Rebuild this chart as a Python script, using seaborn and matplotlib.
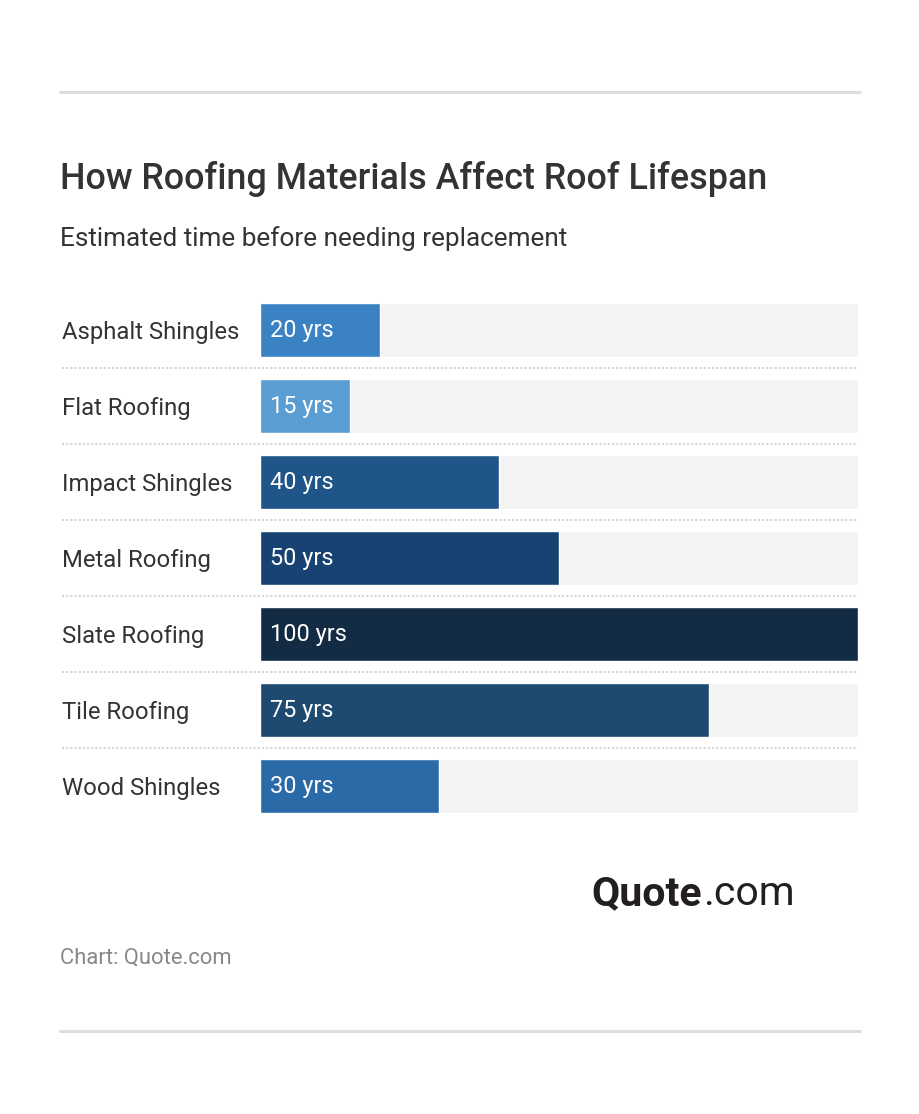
import matplotlib
matplotlib.use('Agg')
import matplotlib.pyplot as plt
from matplotlib.lines import Line2D
import seaborn as sns
import pandas as pd

materials = ['Asphalt Shingles', 'Flat Roofing', 'Impact Shingles', 'Metal Roofing',
             'Slate Roofing', 'Tile Roofing', 'Wood Shingles']
years = [20, 15, 40, 50, 100, 75, 30]
bar_colors = ['#3b82c4', '#5a9dd2', '#1f5588', '#174271', '#132c44', '#1e4a6f', '#2a6aa6']
scale_max = 100

sns.set_theme(style='white')
plt.rcParams['font.family'] = ['Roboto', 'DejaVu Sans']

df = pd.DataFrame({'material': materials, 'years': years})
df['track'] = scale_max

W, H = 920, 1114
fig = plt.figure(figsize=(W / 100, H / 100), dpi=100)
ax = fig.add_axes([260 / W, 1 - 824 / H, 598 / W, 532 / H])

# light background track, then the value bars
sns.barplot(data=df, x='track', y='material', color='#f3f3f3', width=0.71,
            saturation=1, ax=ax)
sns.barplot(data=df, x='years', y='material', hue='material', palette=bar_colors,
            width=0.71, saturation=1, legend=False, ax=ax)

ax.set_xlim(0, scale_max)
ax.set_ylim(len(materials) - 0.5, -0.5)
ax.set_xlabel('')
ax.set_ylabel('')
ax.set_xticks([])
sns.despine(ax=ax, left=True, bottom=True)

for lab in ax.get_yticklabels():
    lab.set_ha('left')
ax.tick_params(axis='y', length=0, pad=198 * 0.72, labelsize=17.2, labelcolor='#333333')

for i, v in enumerate(years):
    ax.text(1.6, i, f'{v} yrs', color='white', fontsize=16.9, va='center', ha='left')

# dotted separators between rows
for i in range(len(materials) - 1):
    ax.axhline(i + 0.5, xmin=(62 - 260) / 598, xmax=1, color='#d6d6d6',
               lw=1.5, linestyle=(0, (1, 1)), dash_capstyle='butt', clip_on=False)

# top and bottom rules
for y in (92, 1031):
    fig.add_artist(Line2D([60 / W, 860 / W], [1 - y / H, 1 - y / H], color='#dddddd',
                          lw=2.2, transform=fig.transFigure))

fig.text(60 / W, 1 - 189 / H, 'How Roofing Materials Affect Roof Lifespan',
         fontsize=25.8, fontweight='medium', color='#333333', va='baseline')
fig.text(60 / W, 1 - 246 / H, 'Estimated time before needing replacement',
         fontsize=18.8, color='#333333', va='baseline')

fig.text(702 / W, 1 - 905 / H, 'Quote', fontsize=29.5, fontweight='bold',
         color='#231f20', ha='right', va='baseline')
fig.text(703 / W, 1 - 905 / H, '.com', fontsize=29.5, color='#231f20',
         ha='left', va='baseline')

fig.text(60 / W, 1 - 964 / H, 'Chart: Quote.com', fontsize=15.8, color='#888888',
         va='baseline')

fig.savefig('out.png', dpi=100, facecolor='white')
